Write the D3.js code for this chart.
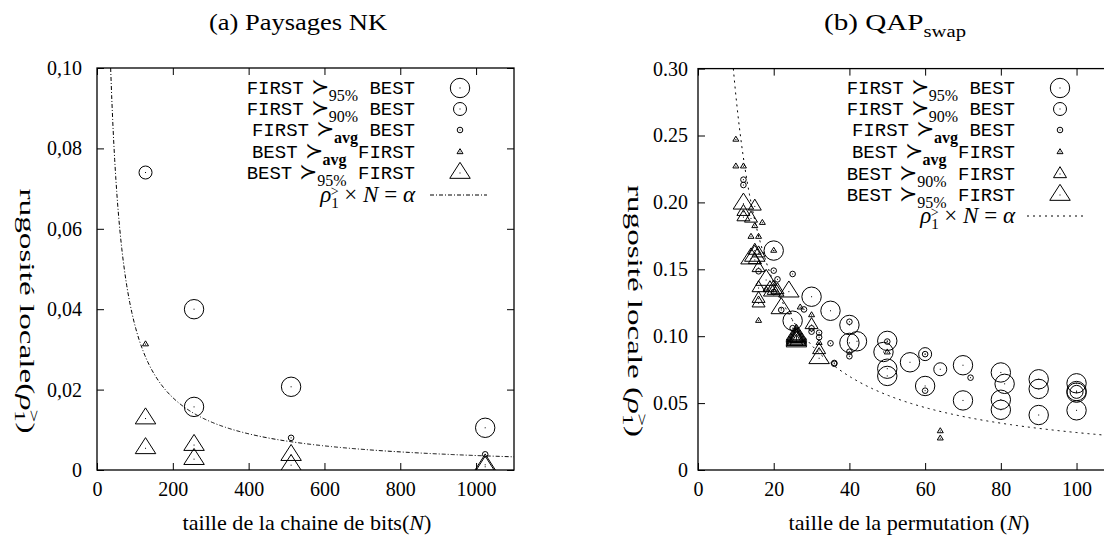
<!DOCTYPE html>
<html>
<head>
<meta charset="utf-8">
<script src="https://cdn.jsdelivr.net/npm/d3@7"></script>
<style>
body { margin: 0; background: #fff; }
svg { display: block; }
</style>
</head>
<body>
<svg id="chart" width="1104" height="538"></svg>
<script>
// (a) Paysages NK : taille N et rugosite locale rho
var nkF95N = [256, 256, 512, 1024];
var nkF95R = [0.0400, 0.0157, 0.0207, 0.0105];
var nkF90N = [128];
var nkF90R = [0.0740];
var nkFavgN = [512, 1024];
var nkFavgR = [0.0080, 0.0039];
var nkBavgN = [128];
var nkBavgR = [0.0313];
var nkB95N = [128, 128, 256, 256, 512, 512, 1024, 1024];
var nkB95R = [0.0128, 0.0054, 0.0062, 0.0027, 0.0037, 0.0012, 0.0013, 0.0008];
var nkAlpha = 3.6;

// (b) QAP swap
var qF95N = [20, 25, 30, 35, 40, 40, 42, 49, 50, 50, 50, 56, 60, 70, 70, 80, 81, 80, 80, 90, 90, 90, 100, 100, 100, 100];
var qF95R = [0.164, 0.1116, 0.1295, 0.119, 0.1084, 0.0950, 0.0962, 0.0882, 0.0965, 0.0757, 0.0703, 0.0805, 0.0628, 0.0783, 0.0520, 0.0729, 0.0644, 0.0525, 0.0450, 0.0678, 0.0606, 0.0411, 0.0648, 0.0590, 0.0578, 0.0446];
var qF90N = [60, 64, 100];
var qF90R = [0.0866, 0.0753, 0.0584];
var qFavgN = [12, 12, 16, 20, 21, 25, 22, 28, 30, 30, 32, 32, 25, 35, 36, 36, 40, 40, 40, 50, 60, 60, 72, 20];
var qFavgR = [0.217, 0.213, 0.1485, 0.149, 0.1425, 0.1465, 0.1196, 0.120, 0.1059, 0.1034, 0.1026, 0.0992, 0.106, 0.0947, 0.0800, 0.0794, 0.1108, 0.0884, 0.0850, 0.0960, 0.0866, 0.0593, 0.0690, 0.133];
var qBavgN = [10, 10, 12, 15, 17, 14, 16, 20, 16, 27, 30, 32, 50, 64, 64, 18];
var qBavgR = [0.247, 0.227, 0.227, 0.1824, 0.1848, 0.1744, 0.1744, 0.164, 0.1116, 0.1216, 0.1158, 0.0951, 0.0880, 0.0291, 0.0237, 0.135];
var qB90N = [15, 12, 12, 14, 15, 16, 15, 16, 16, 16, 16, 19, 20, 21, 30, 32, 26, 26, 26];
var qB90R = [0.197, 0.193, 0.189, 0.188, 0.164, 0.162, 0.157, 0.151, 0.136, 0.128, 0.1246, 0.136, 0.134, 0.1345, 0.1084, 0.0897, 0.1000, 0.0980, 0.0960];
var qB95N = [12, 15, 14, 18, 24, 22, 20, 26, 26, 26, 26, 26, 26, 32];
var qB95R = [0.199, 0.160, 0.158, 0.142, 0.1333, 0.1208, 0.134, 0.1010, 0.1000, 0.0990, 0.0980, 0.0970, 0.0960, 0.0835];
var qAlpha = 2.8;

var nkXTicks = [0, 200, 400, 600, 800, 1000];
var nkYTicks = [0, 0.02, 0.04, 0.06, 0.08, 0.10];
var nkYLabels = ["0", "0,02", "0,04", "0,06", "0,08", "0,10"];
var qXTicks = [0, 20, 40, 60, 80, 100];
var qYTicks = [0, 0.05, 0.10, 0.15, 0.20, 0.25, 0.30];
var qYLabels = ["0", "0.05", "0.10", "0.15", "0.20", "0.25", "0.30"];

var nkLegend = [
    ["FIRST", "95%", "BEST", "c95"],
    ["FIRST", "90%", "BEST", "c90"],
    ["FIRST", "avg", "BEST", "cavg"],
    ["BEST", "avg", "FIRST", "tavg"],
    ["BEST", "95%", "FIRST", "t95"]
];
var qLegend = [
    ["FIRST", "95%", "BEST", "c95"],
    ["FIRST", "90%", "BEST", "c90"],
    ["FIRST", "avg", "BEST", "cavg"],
    ["BEST", "avg", "FIRST", "tavg"],
    ["BEST", "90%", "FIRST", "t90"],
    ["BEST", "95%", "FIRST", "t95"]
];

// tailles des symboles
var marks = {
    c95: {r: 9.7}, c90: {r: 6.5}, cavg: {r: 2.8},
    tavg: {w: 6, h: 5}, t90: {w: 13, h: 11}, t95: {w: 20.5, h: 16}
};

var SERIF = "Liberation Serif";
var MONO = "Liberation Mono";

var svg = d3.select("#chart");

function drawMark(g, kind, cx, cy) {
    var m = marks[kind];
    if (m.r) {
        g.append("circle").attr("cx", cx).attr("cy", cy).attr("r", m.r)
            .attr("fill", "none").attr("stroke", "#000").attr("stroke-width", 1);
    } else {
        var p = "M" + cx + "," + (cy - 2 * m.h / 3) +
            "L" + (cx + m.w / 2) + "," + (cy + m.h / 3) +
            "L" + (cx - m.w / 2) + "," + (cy + m.h / 3) + "Z";
        g.append("path").attr("d", p)
            .attr("fill", "none").attr("stroke", "#000").attr("stroke-width", 1);
    }
    g.append("rect").attr("x", cx - 0.5).attr("y", cy - 0.5)
        .attr("width", 1).attr("height", 1).attr("fill", "#000");
}

function drawSeries(g, x, y, ns, rs, kind) {
    ns.forEach(function(n, i) {
        drawMark(g, kind, x(n), y(rs[i]));
    });
}

// etire un texte le long de sa ligne de base pour atteindre la largeur voulue
function fit(t, cx, cy, rot, target) {
    var w = t.node().getBBox().width;
    t.attr("transform", "translate(" + cx + "," + cy + ") rotate(" + rot + ") scale(" + (target / w) + ",1)");
}

function legendRow(g, tx, sx, cy, row) {
    var t = g.append("text").attr("x", tx).attr("y", cy + 6)
        .attr("text-anchor", "end").attr("font-size", 19).attr("font-family", MONO);
    t.append("tspan").text(row[0]);
    t.append("tspan").attr("font-family", "DejaVu Serif").attr("font-size", 22).attr("dx", 7).text("\u227B");
    t.append("tspan").attr("font-family", SERIF).attr("font-size", 16)
        .attr("font-weight", row[1] == "avg" ? "bold" : "normal")
        .attr("dy", 7).text(row[1]);
    t.append("tspan").attr("dy", -7).text(" " + row[2]);
    drawMark(g, row[3], sx, cy);
}

function rhoLegend(g, tx, x1, x2, cy, dash) {
    var t = g.append("text").attr("x", tx).attr("y", cy + 7)
        .attr("text-anchor", "end").attr("font-size", 23).attr("font-family", SERIF);
    t.append("tspan").attr("font-style", "italic").text("\u03C1");
    t.append("tspan").attr("font-size", 15).attr("dy", 6).text("1");
    t.append("tspan").attr("font-size", 14).attr("dx", -8).attr("dy", -12).text(">");
    t.append("tspan").attr("dy", 6).text(" \u00D7 ");
    t.append("tspan").attr("font-style", "italic").text("N");
    t.append("tspan").text(" = ");
    t.append("tspan").attr("font-style", "italic").text("\u03B1");
    g.append("line").attr("x1", x1).attr("x2", x2).attr("y1", cy).attr("y2", cy)
        .attr("stroke", "#000").attr("stroke-width", 1).attr("stroke-dasharray", dash);
}

function yLabel(g, cx, cy, txt, target) {
    var t = g.append("text").attr("text-anchor", "middle").attr("font-size", 22).attr("font-family", SERIF);
    t.append("tspan").text(txt);
    t.append("tspan").attr("font-style", "italic").text("\u03C1");
    t.append("tspan").attr("font-size", 15).attr("dy", 5).text("1");
    t.append("tspan").attr("font-size", 15).attr("dx", -8).attr("dy", -14).text(">");
    t.append("tspan").attr("dy", 9).text(")");
    fit(t, cx, cy, 90, target);
}

function panel(cfg) {
    var x = d3.scaleLinear().domain(cfg.xDom).range(cfg.xRange);
    var y = d3.scaleLinear().domain(cfg.yDom).range(cfg.yRange);
    var g = svg.append("g");
    var x0 = cfg.xRange[0], x1 = cfg.xRange[1], y0 = cfg.yRange[0], y1 = cfg.yRange[1];

    var clipId = "clip" + cfg.id;
    svg.append("clipPath").attr("id", clipId).append("rect")
        .attr("x", x0).attr("y", y1).attr("width", x1 - x0).attr("height", y0 - y1);

    // axes, ticks vers l'interieur
    var axes = [
        g.append("g").attr("transform", "translate(0," + y0 + ")")
            .call(d3.axisBottom(x).tickValues(cfg.xTicks).tickSize(-7).tickPadding(12).tickFormat(d3.format("d"))),
        g.append("g").attr("transform", "translate(0," + y1 + ")")
            .call(d3.axisTop(x).tickValues(cfg.xTicks).tickSize(-7).tickFormat("")),
        g.append("g").attr("transform", "translate(" + x0 + ",0)")
            .call(d3.axisLeft(y).tickValues(cfg.yTicks).tickSize(-7).tickPadding(cfg.yPad)
                .tickFormat(function(d, i) { return cfg.yLabels[i]; })),
        g.append("g").attr("transform", "translate(" + x1 + ",0)")
            .call(d3.axisRight(y).tickValues(cfg.yTicks).tickSize(-7).tickFormat(""))
    ];
    axes.forEach(function(a) {
        a.select(".domain").remove();
        a.attr("font-family", SERIF).attr("font-size", 20);
        a.selectAll("line").attr("stroke", "#000");
        a.selectAll("text").attr("fill", "#000");
    });

    g.append("rect").attr("x", x0).attr("y", y1).attr("width", x1 - x0).attr("height", y0 - y1)
        .attr("fill", "none").attr("stroke", "#000").attr("stroke-width", 1.3);

    // courbe rho * N = alpha
    var nStart = cfg.alpha / cfg.yDom[1];
    var ns = d3.range(nStart, cfg.xDom[1], (cfg.xDom[1] - nStart) / 400).concat([cfg.xDom[1]]);
    g.append("path").attr("clip-path", "url(#" + clipId + ")")
        .attr("d", d3.line().x(function(n) { return x(n); }).y(function(n) { return y(cfg.alpha / n); })(ns))
        .attr("fill", "none").attr("stroke", "#000").attr("stroke-width", 1)
        .attr("stroke-dasharray", cfg.dash);

    var pts = g.append("g").attr("clip-path", "url(#" + clipId + ")");
    cfg.series.forEach(function(s) { drawSeries(pts, x, y, s[0], s[1], s[2]); });

    var lg = g.append("g");
    cfg.legend.forEach(function(row, i) {
        legendRow(lg, cfg.legX, cfg.legSym, cfg.legY[i], row);
    });
    rhoLegend(lg, cfg.legX, cfg.lineX[0], cfg.lineX[1], cfg.legY[cfg.legend.length], cfg.dash);

    // titres
    var title = svg.append("text").attr("text-anchor", "middle")
        .attr("font-family", SERIF).attr("font-size", 24);
    title.append("tspan").text(cfg.title);
    if (cfg.titleSub) {
        title.append("tspan").attr("font-size", 17).attr("dy", 7).text(cfg.titleSub);
    }
    fit(title, cfg.titleX, 30, 0, cfg.titleW);

    var xl = svg.append("text").attr("text-anchor", "middle")
        .attr("font-family", SERIF).attr("font-size", 21);
    xl.append("tspan").text(cfg.xLabel);
    xl.append("tspan").attr("font-style", "italic").text("N");
    xl.append("tspan").text(")");
    fit(xl, cfg.xLabX, 530, 0, cfg.xLabW);

    yLabel(svg, cfg.yLabX, cfg.yLabY, cfg.yLabel, cfg.yLabW);
}

panel({
    id: "a", xDom: [0, 1100], xRange: [97, 514], yDom: [0, 0.10], yRange: [470, 68],
    xTicks: nkXTicks, yTicks: nkYTicks, yLabels: nkYLabels, yPad: 15,
    alpha: nkAlpha, dash: "4,2,1,2",
    series: [
        [nkF95N, nkF95R, "c95"], [nkF90N, nkF90R, "c90"], [nkFavgN, nkFavgR, "cavg"],
        [nkBavgN, nkBavgR, "tavg"], [nkB95N, nkB95R, "t95"]
    ],
    legend: nkLegend, legX: 415, legSym: 460, legY: [88, 109, 130, 152, 173, 195], lineX: [430, 487],
    title: "(a) Paysages NK", titleX: 298, titleW: 179,
    xLabel: "taille de la chaine de bits(", xLabX: 307, xLabW: 249,
    yLabel: "rugosit\u00E9 locale(", yLabX: 20, yLabY: 311, yLabW: 245
});

panel({
    id: "b", xDom: [0, 110], xRange: [698, 1114.4], yDom: [0, 0.30], yRange: [470, 68.6],
    xTicks: qXTicks, yTicks: qYTicks, yLabels: qYLabels, yPad: 10,
    alpha: qAlpha, dash: "2,4",
    series: [
        [qF95N, qF95R, "c95"], [qF90N, qF90R, "c90"], [qFavgN, qFavgR, "cavg"],
        [qBavgN, qBavgR, "tavg"], [qB90N, qB90R, "t90"], [qB95N, qB95R, "t95"]
    ],
    legend: qLegend, legX: 1015, legSym: 1060, legY: [88, 109, 130, 152, 174, 195, 216], lineX: [1027, 1083],
    title: "(b) QAP", titleSub: "swap", titleX: 895, titleW: 142,
    xLabel: "taille de la permutation (", xLabX: 909, xLabW: 241,
    yLabel: "rugosit\u00E9 locale (", yLabX: 628, yLabY: 311, yLabW: 252
});
</script>
</body>
</html>
